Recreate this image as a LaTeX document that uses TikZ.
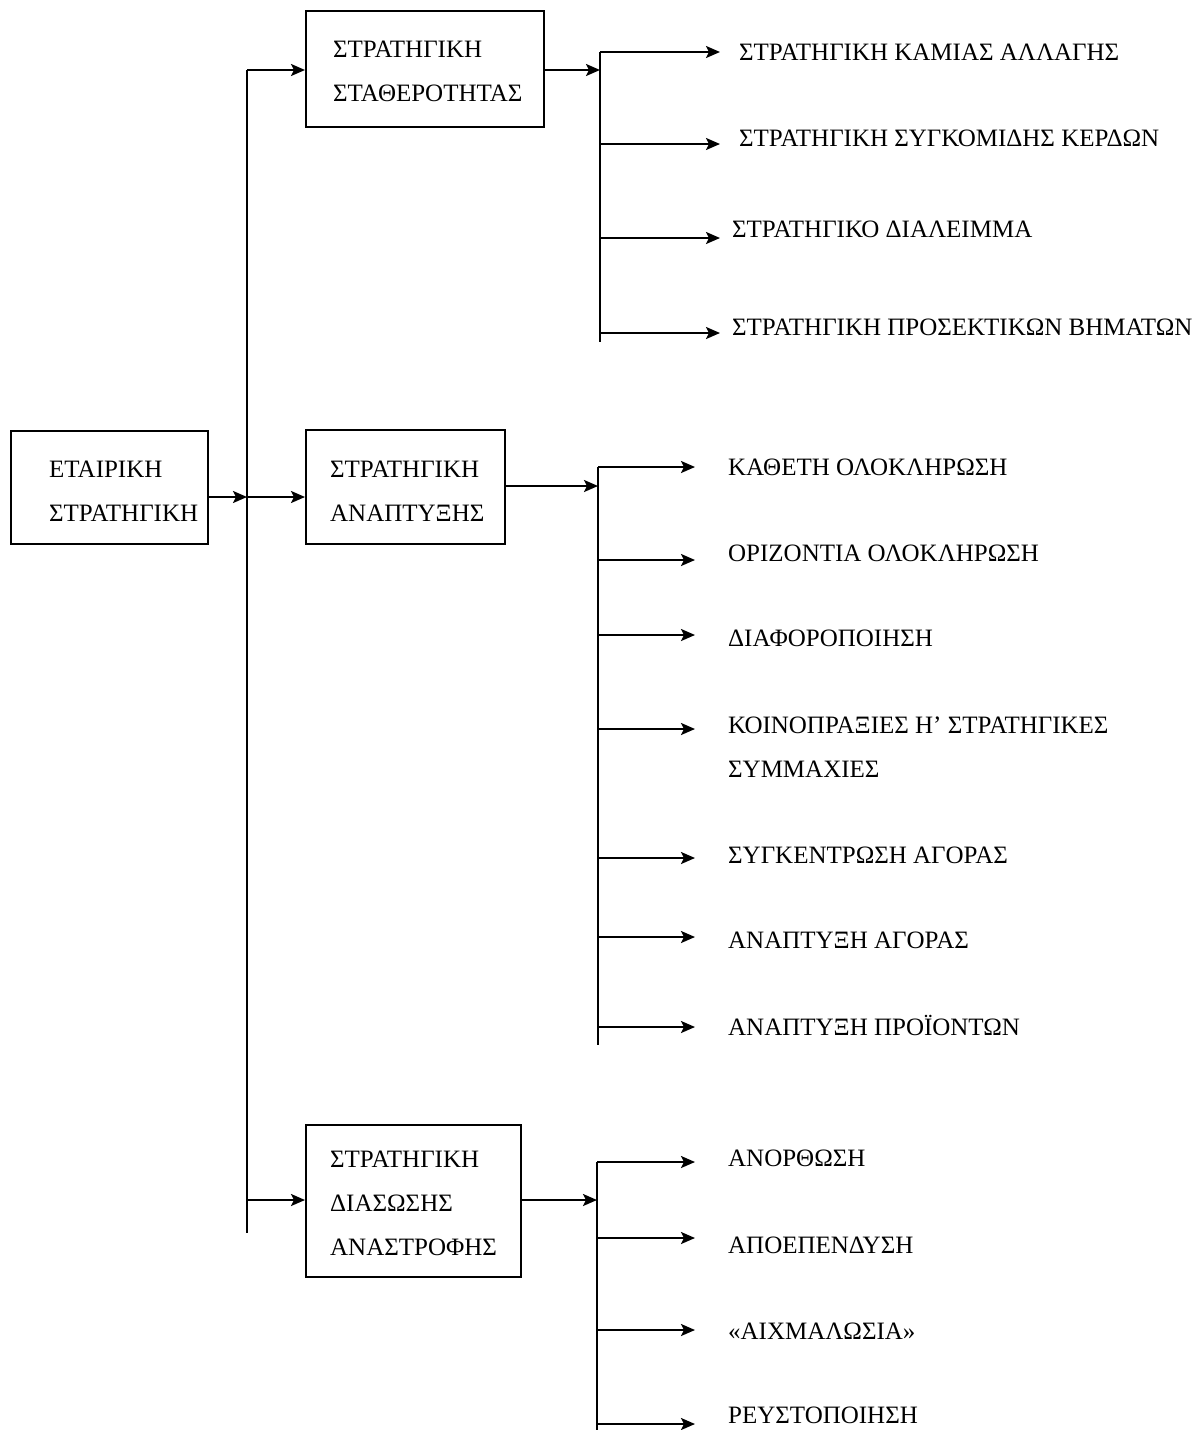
\documentclass[tikz,border=0pt]{standalone}
\usepackage{fontspec}
\setmainfont{Liberation Serif}
\usetikzlibrary{arrows.meta}
\begin{document}
\begin{tikzpicture}[x=1pt,y=-1pt,
  line width=2.3pt,
  box/.style={draw, line width=2.4pt, inner sep=0pt, anchor=north west},
  txt/.style={anchor=west, inner sep=0pt, align=left, font=\fontsize{25}{44}\selectfont},
  arr/.style={-{Stealth[length=14pt,width=12pt,inset=3pt]}},
]
\useasboundingbox (0,0) rectangle (1203,1430);

% ---- boxes ----
\node[box, minimum width=197pt, minimum height=113pt] (corp) at (10,430) {};
\node[txt] (corpT) at (48,491) {ΕΤΑΙΡΙΚΗ\\ΣΤΡΑΤΗΓΙΚΗ};

\node[box, minimum width=238pt, minimum height=116pt] (stab) at (305,10) {};
\node[txt] (stabT) at (332,71) {ΣΤΡΑΤΗΓΙΚΗ\\ΣΤΑΘΕΡΟΤΗΤΑΣ};

\node[box, minimum width=199pt, minimum height=114pt] (grow) at (305,429) {};
\node[txt] (growT) at (329,491) {ΣΤΡΑΤΗΓΙΚΗ\\ΑΝΑΠΤΥΞΗΣ};

\node[box, minimum width=215pt, minimum height=152pt] (turn) at (305,1124) {};
\node[txt] (turnT) at (329,1203) {ΣΤΡΑΤΗΓΙΚΗ\\ΔΙΑΣΩΣΗΣ\\ΑΝΑΣΤΡΟΦΗΣ};

% ---- main spine ----
\coordinate (sp1) at (247,70);
\coordinate (sp2) at (247,497);
\coordinate (sp3) at (247,1200);
\coordinate (spBot) at (247,1233);
\draw (sp1) -- (spBot);
\draw[arr] (corp.east |- sp2) -- (sp2);
\draw[arr] (sp1) -- (sp1 -| stab.west);
\draw[arr] (sp2) -- (sp2 -| grow.west);
\draw[arr] (sp3) -- (sp3 -| turn.west);

% ---- stability branch ----
\coordinate (t1in) at (600,70);
\coordinate (b11) at (600,52);
\coordinate (b12) at (600,144);
\coordinate (b13) at (600,238);
\coordinate (b14) at (600,333);
\coordinate (t1bot) at (600,342);
\draw (b11) -- (t1bot);
\draw[arr] (t1in -| stab.east) -- (t1in);
\node[txt] (s1) at (738,52)  {ΣΤΡΑΤΗΓΙΚΗ ΚΑΜΙΑΣ ΑΛΛΑΓΗΣ};
\node[txt] (s2) at (738,138) {ΣΤΡΑΤΗΓΙΚΗ ΣΥΓΚΟΜΙΔΗΣ ΚΕΡΔΩΝ};
\node[txt] (s3) at (731,229) {ΣΤΡΑΤΗΓΙΚΟ ΔΙΑΛΕΙΜΜΑ};
\node[txt] (s4) at (731,327) {ΣΤΡΑΤΗΓΙΚΗ ΠΡΟΣΕΚΤΙΚΩΝ ΒΗΜΑΤΩΝ};
\draw[arr, shorten >=18pt] (b11) -- (b11 -| s1.west);
\draw[arr, shorten >=18pt] (b12) -- (b12 -| s2.west);
\draw[arr, shorten >=11pt] (b13) -- (b13 -| s3.west);
\draw[arr, shorten >=11pt] (b14) -- (b14 -| s4.west);

% ---- growth branch ----
\coordinate (t2in) at (598,486);
\coordinate (b21) at (598,467);
\coordinate (b22) at (598,560);
\coordinate (b23) at (598,635);
\coordinate (b24) at (598,729);
\coordinate (b25) at (598,858);
\coordinate (b26) at (598,937);
\coordinate (b27) at (598,1027);
\coordinate (t2bot) at (598,1045);
\draw (b21) -- (t2bot);
\draw[arr] (t2in -| grow.east) -- (t2in);
\node[txt] (g1) at (727,467)  {ΚΑΘΕΤΗ ΟΛΟΚΛΗΡΩΣΗ};
\node[txt] (g2) at (727,553)  {ΟΡΙΖΟΝΤΙΑ ΟΛΟΚΛΗΡΩΣΗ};
\node[txt] (g3) at (727,638)  {ΔΙΑΦΟΡΟΠΟΙΗΣΗ};
\node[txt] (g4) at (727,747)  {ΚΟΙΝΟΠΡΑΞΙΕΣ Η’ ΣΤΡΑΤΗΓΙΚΕΣ\\ΣΥΜΜΑΧΙΕΣ};
\node[txt] (g5) at (727,855)  {ΣΥΓΚΕΝΤΡΩΣΗ ΑΓΟΡΑΣ};
\node[txt] (g6) at (727,940)  {ΑΝΑΠΤΥΞΗ ΑΓΟΡΑΣ};
\node[txt] (g7) at (727,1025) {ΑΝΑΠΤΥΞΗ ΠΡΟΪΟΝΤΩΝ};
\foreach \i in {1,...,7}{
  \draw[arr, shorten >=32pt] (b2\i) -- (b2\i -| g\i.west);
}

% ---- turnaround branch ----
\coordinate (t3in) at (597,1200);
\coordinate (b31) at (597,1162);
\coordinate (b32) at (597,1238);
\coordinate (b33) at (597,1330);
\coordinate (b34) at (597,1424);
\coordinate (t3bot) at (597,1432);
\draw (b31) -- (t3bot);
\draw[arr] (t3in -| turn.east) -- (t3in);
\node[txt] (r1) at (727,1158) {ΑΝΟΡΘΩΣΗ};
\node[txt] (r2) at (727,1245) {ΑΠΟΕΠΕΝΔΥΣΗ};
\node[txt] (r3) at (727,1331) {«ΑΙΧΜΑΛΩΣΙΑ»};
\node[txt] (r4) at (727,1415) {ΡΕΥΣΤΟΠΟΙΗΣΗ};
\foreach \i in {1,...,4}{
  \draw[arr, shorten >=32pt] (b3\i) -- (b3\i -| r\i.west);
}
\end{tikzpicture}
\end{document}
